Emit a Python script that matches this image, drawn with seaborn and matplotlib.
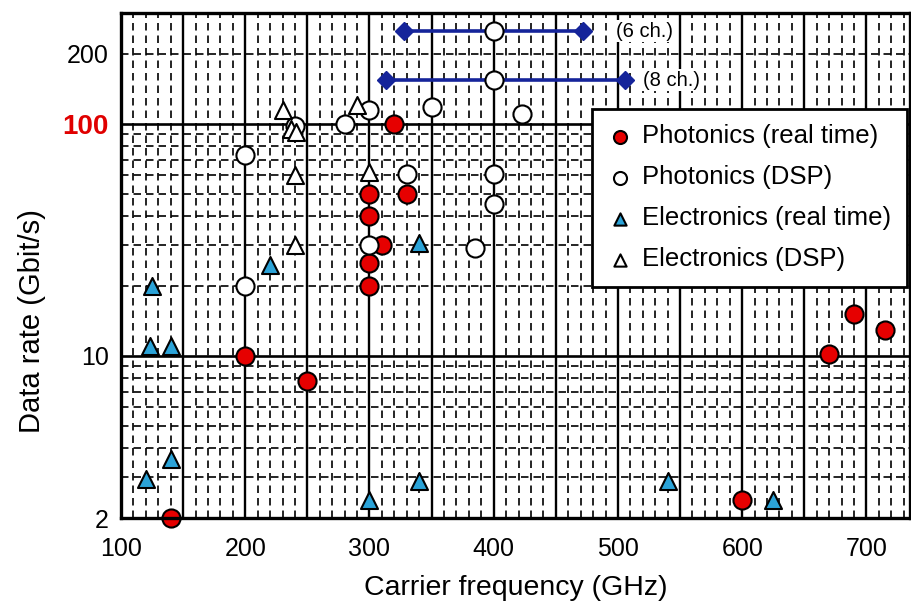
import matplotlib
matplotlib.use("Agg")
import matplotlib.pyplot as plt
import numpy as np
import pandas as pd
import seaborn as sns

# Photonics, real time
pr_freq = [140, 200, 250, 320, 300, 300, 300, 300, 310, 330, 670, 690, 715, 600]
pr_rate = [2.0, 10, 7.8, 100, 50, 40, 25, 20, 30, 50, 10.2, 15.2, 12.9, 2.4]

# Photonics, DSP
pd_freq = [200, 200, 240, 280, 300, 350, 400, 400, 423, 330, 400, 400, 385, 300]
pd_rate = [73, 20, 98, 100, 115, 118, 250, 154, 110, 61, 61, 45, 29, 30]

# Electronics, real time
er_freq = [125, 123, 140, 220, 340, 120, 140, 300, 340, 540, 625]
er_rate = [20, 11, 11, 24.5, 30.5, 2.95, 3.6, 2.4, 2.9, 2.9, 2.4]

# Electronics, DSP
ed_freq = [230, 237, 241, 290, 240, 300, 240]
ed_rate = [115, 95, 92, 120, 60, 62, 30]

# multi-channel ranges
ch_labels = ["(6 ch.)", "(8 ch.)"]
ch_start = [328, 313]
ch_end = [472, 506]
ch_rate = [250, 154]

x_ticks = [100, 200, 300, 400, 500, 600, 700]
y_ticks = [2, 10, 100, 200]

sns.set_style("white")
plt.rcParams["font.family"] = ["Liberation Sans", "DejaVu Sans"]
plt.rcParams["text.color"] = "black"
plt.rcParams["axes.labelcolor"] = "black"
plt.rcParams["xtick.color"] = "black"
plt.rcParams["ytick.color"] = "black"

fig = plt.figure(figsize=(9.12, 6.02), dpi=100)
ax = fig.add_axes([0.1327, 0.1395, 0.865, 0.8389])

ax.set_yscale("log")
ax.set_xlim(100, 735)
ax.set_ylim(2, 300)

# grid
dash = (0, (4.5, 3))
for xv in np.arange(110, 740, 10):
    if xv % 50 == 0:
        ax.axvline(xv, color="black", lw=1.7, zorder=1)
    else:
        ax.axvline(xv, color="black", lw=1.2, ls=dash, zorder=1)
for yv in [3, 4, 5, 6, 7, 8, 9, 20, 30, 40, 50, 60, 70, 80, 90, 200]:
    ax.axhline(yv, color="black", lw=1.2, ls=dash, zorder=1)
for yv in [10, 100]:
    ax.axhline(yv, color="black", lw=1.9, zorder=1)

# channel ranges
navy = "#15249a"
for s, e, r in zip(ch_start, ch_end, ch_rate):
    ax.plot([s, e], [r, r], color=navy, lw=2.6, zorder=2)
    ax.plot([s, e], [r, r], color=navy, ls="none", marker="D", ms=9, zorder=2)
ax.text(521, ch_rate[0], ch_labels[0], fontsize=14.5, va="center", ha="center",
        bbox=dict(facecolor="white", edgecolor="none", pad=1), zorder=2)
ax.text(543, ch_rate[1], ch_labels[1], fontsize=14.5, va="center", ha="center",
        bbox=dict(facecolor="white", edgecolor="none", pad=1), zorder=2)

groups = [
    ("Photonics (real time)", pr_freq, pr_rate, "o", "#e60000"),
    ("Photonics (DSP)", pd_freq, pd_rate, "o", "white"),
    ("Electronics (real time)", er_freq, er_rate, "^", "#2ba3d8"),
    ("Electronics (DSP)", ed_freq, ed_rate, "^", "white"),
]
for name, fx, fy, mk, col in groups:
    df = pd.DataFrame({"freq": fx, "rate": fy})
    sns.scatterplot(data=df, x="freq", y="rate", marker=mk, color=col,
                    edgecolor="black", linewidth=1.5, s=170 if mk == "o" else 150,
                    label=name, ax=ax, zorder=3, clip_on=False)

leg = ax.legend(loc="upper right", bbox_to_anchor=(0.996, 0.81), fontsize=18.5,
                frameon=True, fancybox=False, edgecolor="black", framealpha=1,
                markerscale=0.72, handletextpad=0.35, labelspacing=0.66,
                borderpad=0.6, handlelength=1.0, borderaxespad=0)
leg.get_frame().set_linewidth(2.0)
leg.set_zorder(5)

ax.set_xticks(x_ticks)
ax.set_xticklabels([str(v) for v in x_ticks])
ax.set_yticks(y_ticks)
ax.set_yticklabels([str(v) for v in y_ticks])
ax.minorticks_off()
ax.tick_params(axis="x", length=0, labelsize=18, pad=14)
ax.tick_params(axis="y", length=0, labelsize=18, pad=9)
lab100 = ax.get_yticklabels()[2]
lab100.set_color("#e00000")
lab100.set_fontweight("bold")
lab100.set_fontsize(20)

ax.set_xlabel("Carrier frequency (GHz)", fontsize=20.5, labelpad=10)
ax.set_ylabel("Data rate (Gbit/s)", fontsize=21)
ax.yaxis.set_label_coords(-0.095, 0.39)

for sp in ax.spines.values():
    sp.set_linewidth(2.4)
    sp.set_color("black")
    sp.set_zorder(4)

fig.savefig("out.png", dpi=100)
